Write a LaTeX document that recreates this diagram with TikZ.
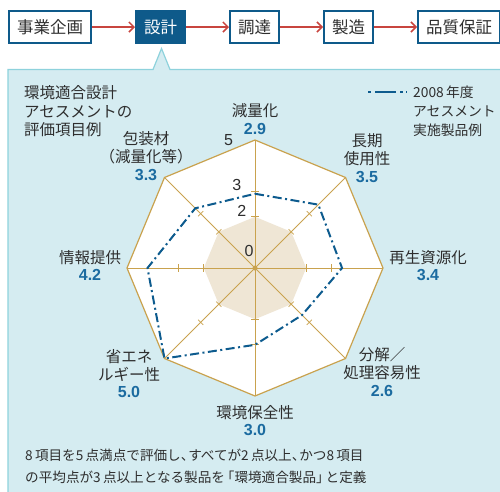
\documentclass[tikz,border=0pt]{standalone}
\usepackage{fontspec}
\setmainfont{Noto Sans CJK JP}
\newfontfamily\numfont{Liberation Sans}
\usepackage{tikz}
\usetikzlibrary{arrows.meta, positioning}

\definecolor{boxblue}{HTML}{0E5A8A}
\definecolor{flowred}{HTML}{C8453F}
\definecolor{panelfill}{HTML}{D5ECF1}
\definecolor{paneledge}{HTML}{8ED2DC}
\definecolor{gold}{HTML}{C9A24E}
\definecolor{beige}{HTML}{EFE6D5}
\definecolor{lineblue}{HTML}{0D5B8E}
\definecolor{scoreblue}{HTML}{1B6BA0}
\definecolor{textgray}{HTML}{2E2E2E}

\begin{document}
\begin{tikzpicture}[
        x=1pt, y=-1pt,
        every node/.style={text=textgray, inner sep=0pt},
        stage/.style={draw=boxblue, line width=2pt, fill=white, minimum height=32pt,
            inner xsep=8pt, font=\fontsize{16.5}{18}\selectfont},
        current/.style={stage, fill=boxblue, text=white},
        flow/.style={draw=flowred, line width=1.5pt, -{Straight Barb[length=5pt, width=10pt]}},
        axis/.style={draw=gold, line width=0.8pt},
        data/.style={draw=lineblue, line width=2pt, dash pattern=on 9pt off 3.5pt on 2pt off 3.5pt},
        item/.style={align=center, anchor=south, font=\fontsize{15.5}{18}\selectfont},
        score/.style={below=4.8pt of #1, text=scoreblue, font=\numfont\bfseries\fontsize{16}{18}\selectfont},
        scalenum/.style={font=\numfont\fontsize{16}{18}\selectfont},
        note/.style={align=left, anchor=west}
    ]
    \useasboundingbox (0,0) rectangle (500,491);

    % Panel
    \draw[fill=panelfill, draw=paneledge, line width=1.2pt]
        (8,69.5) -- (153,69.5) -- (161.5,48.5) -- (170,69.5) -- (520,69.5)
        -- (520,510) -- (8,510) -- cycle;

    % Stages
    \node[stage, anchor=west] (plan) at (8,27) {事業企画};
    \node[current, right=43pt of plan] (design) {設計};
    \node[stage, right=43pt of design] (procure) {調達};
    \node[stage, right=43pt of procure] (make) {製造};
    \node[stage, right=43pt of make] (quality) {品質保証};

    \draw[flow] (plan) -- (design);
    \draw[flow] (design) -- (procure);
    \draw[flow] (procure) -- (make);
    \draw[flow] (make) -- (quality);

    % Chart
    \begin{scope}[shift={(255,268)}, x=25.6pt, y=25.6pt]
        \fill[white] (0:5) \foreach \a in {45,90,...,315} { -- (\a:5) } -- cycle;
        \fill[beige] (0:2) \foreach \a in {45,90,...,315} { -- (\a:2) } -- cycle;
        \foreach \a in {0,45,...,315} {
            \draw[axis] (0,0) -- (\a:5);
            \draw[axis, rotate=\a] (2,-0.14) -- (2,0.14) (3,-0.14) -- (3,0.14);
        }
        \draw[axis, line width=1.2pt] (0:5) \foreach \a in {45,90,...,315} { -- (\a:5) } -- cycle;
        \fill[gold] (0,0) circle (2.5pt);
        \draw[data] (90:2.9) -- (45:3.5) -- (0:3.4) -- (-45:2.6) -- (-90:3.0)
            -- (-135:5.0) -- (180:4.2) -- (135:3.3) -- cycle;
    \end{scope}

    % Scale
    \node[scalenum] (s5) at (228.5,140.5) {5};
    \node[scalenum] (s3) at (236.7,185) {3};
    \node[scalenum] (s2) at (241.7,211) {2};
    \node[scalenum] (s0) at (249,251) {0};

    % Items
    \node[item] (reduce) at (255,118) {減量化};
    \node[score=reduce] (reduce val) {2.9};
    \node[item] (longuse) at (367,166.5) {長期\\使用性};
    \node[score=longuse] (longuse val) {3.5};
    \node[item] (recycle) at (428,264.5) {再生資源化};
    \node[score=recycle] (recycle val) {3.4};
    \node[item] (dismantle) at (382,380.5) {分解／\\処理容易性};
    \node[score=dismantle] (dismantle val) {2.6};
    \node[item] (environ) at (255,419.5) {環境保全性};
    \node[score=environ] (environ val) {3.0};
    \node[item] (energy) at (129,381.5) {省エネ\\ルギー性};
    \node[score=energy] (energy val) {5.0};
    \node[item] (info) at (90,264.5) {情報提供};
    \node[score=info] (info val) {4.2};
    \node[item] (package) at (146,164.5) {包装材\\（減量化等）};
    \node[score=package] (package val) {3.3};

    % Labels
    \node[note, font=\fontsize{15.5}{18.5}\selectfont] (title) at (24,111.5)
        {環境適合設計\\アセスメントの\\評価項目例};
    \coordinate (leg a) at (368,92);
    \coordinate (leg b) at (407,92);
    \draw[draw=lineblue, line width=2pt, dash pattern=on 3pt off 4pt on 21pt off 4pt on 3pt] (leg a) -- (leg b);
    \node[note, font=\fontsize{13.8}{19}\selectfont] (legend) at (413,111)
        {2008\,年度\\アセスメント\\実施製品例};
    \node[note, font=\fontsize{13.6}{22}\selectfont] (rule) at (25,466)
        {8\,項目を5\,点満点で評価し、\kern-.45em すべてが2\,点以上、\kern-.45em かつ8\,項目\\%
         の平均点が3\,点以上となる製品を\kern-.3em「環境適合製品」\kern-.3em と定義};

\end{tikzpicture}
\end{document}
